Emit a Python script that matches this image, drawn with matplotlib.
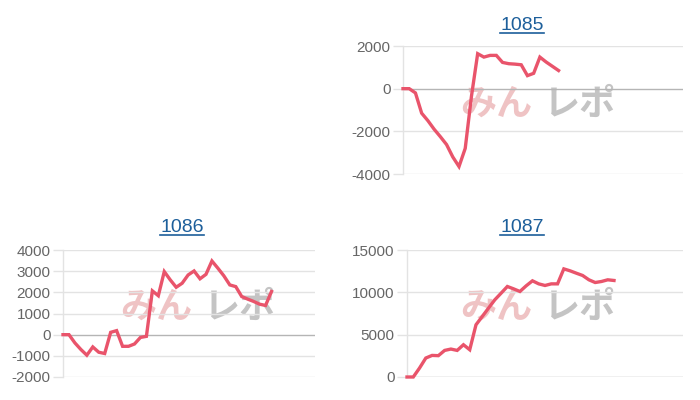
import matplotlib
matplotlib.use("Agg")
import matplotlib.pyplot as plt
from matplotlib.lines import Line2D
import numpy as np

plt.rcParams['font.family'] = ['Liberation Sans', 'DejaVu Sans']

# machine numbers
titles = ['1085', '1086', '1087']

# difference curves
vals_1085 = [0, 0, -200, -1150, -1500, -1900, -2250, -2620, -3200, -3650,
             -2800, -360, 1640, 1480, 1560, 1560, 1230, 1170, 1150, 1120,
             610, 720, 1480, 1250, 1050, 850]
vals_1086 = [0, 0, -390, -700, -970, -580, -830, -890, 110, 190,
             -550, -550, -440, -130, -80, 2070, 1840, 2980, 2590, 2240,
             2430, 2820, 3010, 2640, 2850, 3480, 3140, 2780, 2350, 2270,
             1800, 1680, 1570, 1440, 1380, 2040]
vals_1087 = [0, 0, 1060, 2240, 2550, 2520, 3140, 3300, 3140, 3810,
             3220, 6170, 7150, 8140, 9120, 9900, 10690, 10410, 10100, 10770,
             11360, 11000, 10810, 11000, 11000, 12770, 12540, 12260, 11990, 11480,
             11160, 11280, 11480, 11400]

yticks_1085 = [-4000, -2000, 0, 2000]
yticks_1086 = [-2000, -1000, 0, 1000, 2000, 3000, 4000]
yticks_1087 = [0, 5000, 10000, 15000]

xmax = [45, 42.3, 44]

line_col = '#e9546b'
grid_col = '#e3e3e3'
zero_col = '#b5b5b5'
title_col = '#1d5f9b'

W, H = 700, 400
fig = plt.figure(figsize=(7, 4), dpi=100)

# axes boxes in pixels: left, right, top, bottom
boxes = [(403, 683, 46, 174), (63, 315, 250, 377), (407, 683, 250, 377)]
title_pos = [(522, 25), (182, 227), (522, 227)]
mark_pos = [(538, 104), (198, 307), (538, 307)]

series = [vals_1085, vals_1086, vals_1087]
ticks = [yticks_1085, yticks_1086, yticks_1087]

title_texts = []
for i in range(3):
    l, r, t, b = boxes[i]
    ax = fig.add_axes([l / W, 1 - b / H, (r - l) / W, (b - t) / H])
    yt = ticks[i]
    ax.set_ylim(yt[0], yt[-1])
    ax.set_xlim(0, xmax[i])
    ax.set_yticks(yt)
    ax.set_yticklabels([str(v) for v in yt])
    ax.set_xticks([])
    for v in yt:
        ax.axhline(v, color=zero_col if v == 0 else grid_col, lw=1, zorder=1)
    for s in ['top', 'right', 'bottom']:
        ax.spines[s].set_visible(False)
    ax.spines['left'].set_color(grid_col)
    ax.spines['left'].set_linewidth(1)
    ax.tick_params(axis='y', length=7, width=1, color=grid_col, pad=2,
                   labelsize=11, labelcolor='#666666')
    ax.set_facecolor('none')
    ax.plot(np.arange(len(series[i])), series[i], color=line_col, lw=2.4,
            zorder=3, solid_joinstyle='miter', clip_on=False)

    # watermark, behind the line
    mx, my = mark_pos[i]
    ax.text((mx - 42) / W, 1 - my / H, 'みん', ha='center', va='center',
            fontsize=26, fontweight='bold', color='#efc3c4',
            family=['Noto Sans CJK JP'], zorder=0.5,
            transform=fig.transFigure, clip_on=False)
    ax.text((mx + 42) / W, 1 - my / H, 'レポ', ha='center', va='center',
            fontsize=26, fontweight='bold', color='#c4c4c4',
            family=['Noto Sans CJK JP'], zorder=0.5,
            transform=fig.transFigure, clip_on=False)

    tx, ty = title_pos[i]
    tt = fig.text(tx / W, 1 - ty / H, titles[i], ha='center', va='center',
                  fontsize=14, color=title_col)
    title_texts.append(tt)

# underline the titles like links
fig.canvas.draw()
rend = fig.canvas.get_renderer()
for tt in title_texts:
    bb = tt.get_window_extent(rend)
    yl = (bb.y0 + 1) / H
    fig.add_artist(Line2D([bb.x0 / W, bb.x1 / W], [yl, yl],
                          color=title_col, lw=1.2, transform=fig.transFigure))

fig.savefig('out.png', dpi=100)
